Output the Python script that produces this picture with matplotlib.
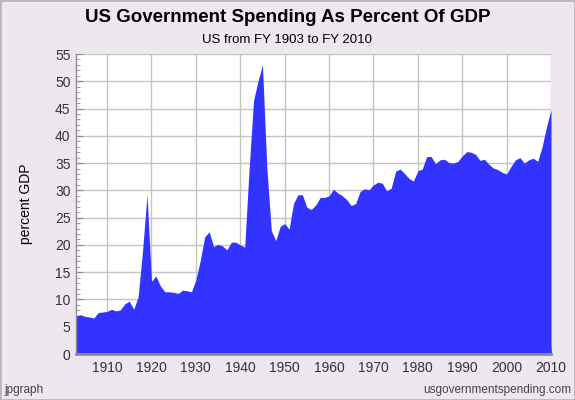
import matplotlib
matplotlib.use('Agg')
import matplotlib.pyplot as plt
from matplotlib.ticker import MultipleLocator

# fiscal years and spending as percent of GDP
years = list(range(1903, 2011))
spending = [
    7.0, 7.2, 6.9, 6.8, 6.6, 7.6, 7.7,                    # 1903-1909
    7.8, 8.2, 7.9, 8.1, 9.2, 9.7, 8.2, 10.5, 19.0, 29.2,  # 1910s
    13.3, 14.3, 12.5, 11.4, 11.4, 11.3, 11.1, 11.7, 11.6, 11.4,  # 1920s
    13.6, 17.2, 21.5, 22.4, 19.7, 20.1, 19.8, 19.1, 20.5, 20.5,  # 1930s
    20.0, 19.6, 34.0, 46.5, 50.0, 53.0, 34.0, 22.6, 20.8, 23.4,  # 1940s
    23.9, 22.9, 27.6, 29.2, 29.2, 26.9, 26.5, 27.3, 28.7, 28.7,  # 1950s
    29.0, 30.2, 29.5, 29.0, 28.3, 27.2, 27.6, 29.8, 30.3, 30.1,  # 1960s
    31.0, 31.5, 31.3, 29.9, 30.4, 33.5, 33.9, 33.1, 32.2, 31.7,  # 1970s
    33.6, 33.9, 36.2, 36.2, 34.9, 35.6, 35.7, 35.1, 35.0, 35.3,  # 1980s
    36.3, 37.1, 37.0, 36.6, 35.5, 35.7, 34.8, 34.1, 33.8, 33.3,  # 1990s
    33.0, 34.4, 35.6, 36.0, 35.0, 35.6, 35.9, 35.3, 38.0, 41.7,  # 2000s
    44.8,                                                  # 2010
]
decade_ticks = list(range(1910, 2011, 10))

BG = '#EFE7EF'
FILL = '#3333FF'
AXIS = '#8C8C8C'

plt.rcParams['font.family'] = ['Liberation Sans', 'DejaVu Sans']

fig = plt.figure(figsize=(5.75, 4.0), dpi=100, facecolor=BG)
ax = fig.add_axes([76 / 575, 46 / 400, 475 / 575, 300 / 400])
ax.set_facecolor('white')

ax.fill_between(years, spending, 0, color=FILL, linewidth=0, zorder=2)

ax.set_xlim(1903, 2010)
ax.set_ylim(0, 55)
ax.set_xticks(decade_ticks)
ax.yaxis.set_major_locator(MultipleLocator(5))
ax.yaxis.set_minor_locator(MultipleLocator(1))

ax.grid(True, which='major', color='#C4C4C4', linewidth=1, zorder=1)
ax.set_axisbelow(True)

for side in ('top', 'right'):
    ax.spines[side].set_visible(False)
for side in ('left', 'bottom'):
    ax.spines[side].set_color(AXIS)
    ax.spines[side].set_zorder(3)
ax.spines['bottom'].set_linewidth(2)
ax.spines['left'].set_linewidth(1)

ax.tick_params(axis='both', which='major', direction='in', length=5,
               color=AXIS, labelsize=10, labelcolor='#333333', pad=4)
ax.tick_params(axis='y', which='minor', direction='in', length=3, color=AXIS)
ax.tick_params(axis='x', pad=5)

ax.set_ylabel('percent GDP', fontsize=10, labelpad=16)

fig.text(0.5, 1 - 18 / 400, 'US Government Spending As Percent Of GDP',
         ha='center', va='center', fontsize=13.5, fontweight='bold')
fig.text(0.5, 1 - 40 / 400, 'US from FY 1903 to FY 2010',
         ha='center', va='center', fontsize=9.5)
fig.text(4 / 575, 1 - 390 / 400, 'jpgraph', ha='left', va='center',
         fontsize=8.5, color='#444444')
fig.text(571 / 575, 1 - 390 / 400, 'usgovernmentspending.com', ha='right',
         va='center', fontsize=8.5, color='#444444')

# thin gray frame around the image
fig.patches.append(plt.Rectangle((0, 0), 1, 1, transform=fig.transFigure,
                                 fill=False, edgecolor='#B8B8B8', linewidth=2))

fig.savefig('out.png', dpi=100, facecolor=BG)
